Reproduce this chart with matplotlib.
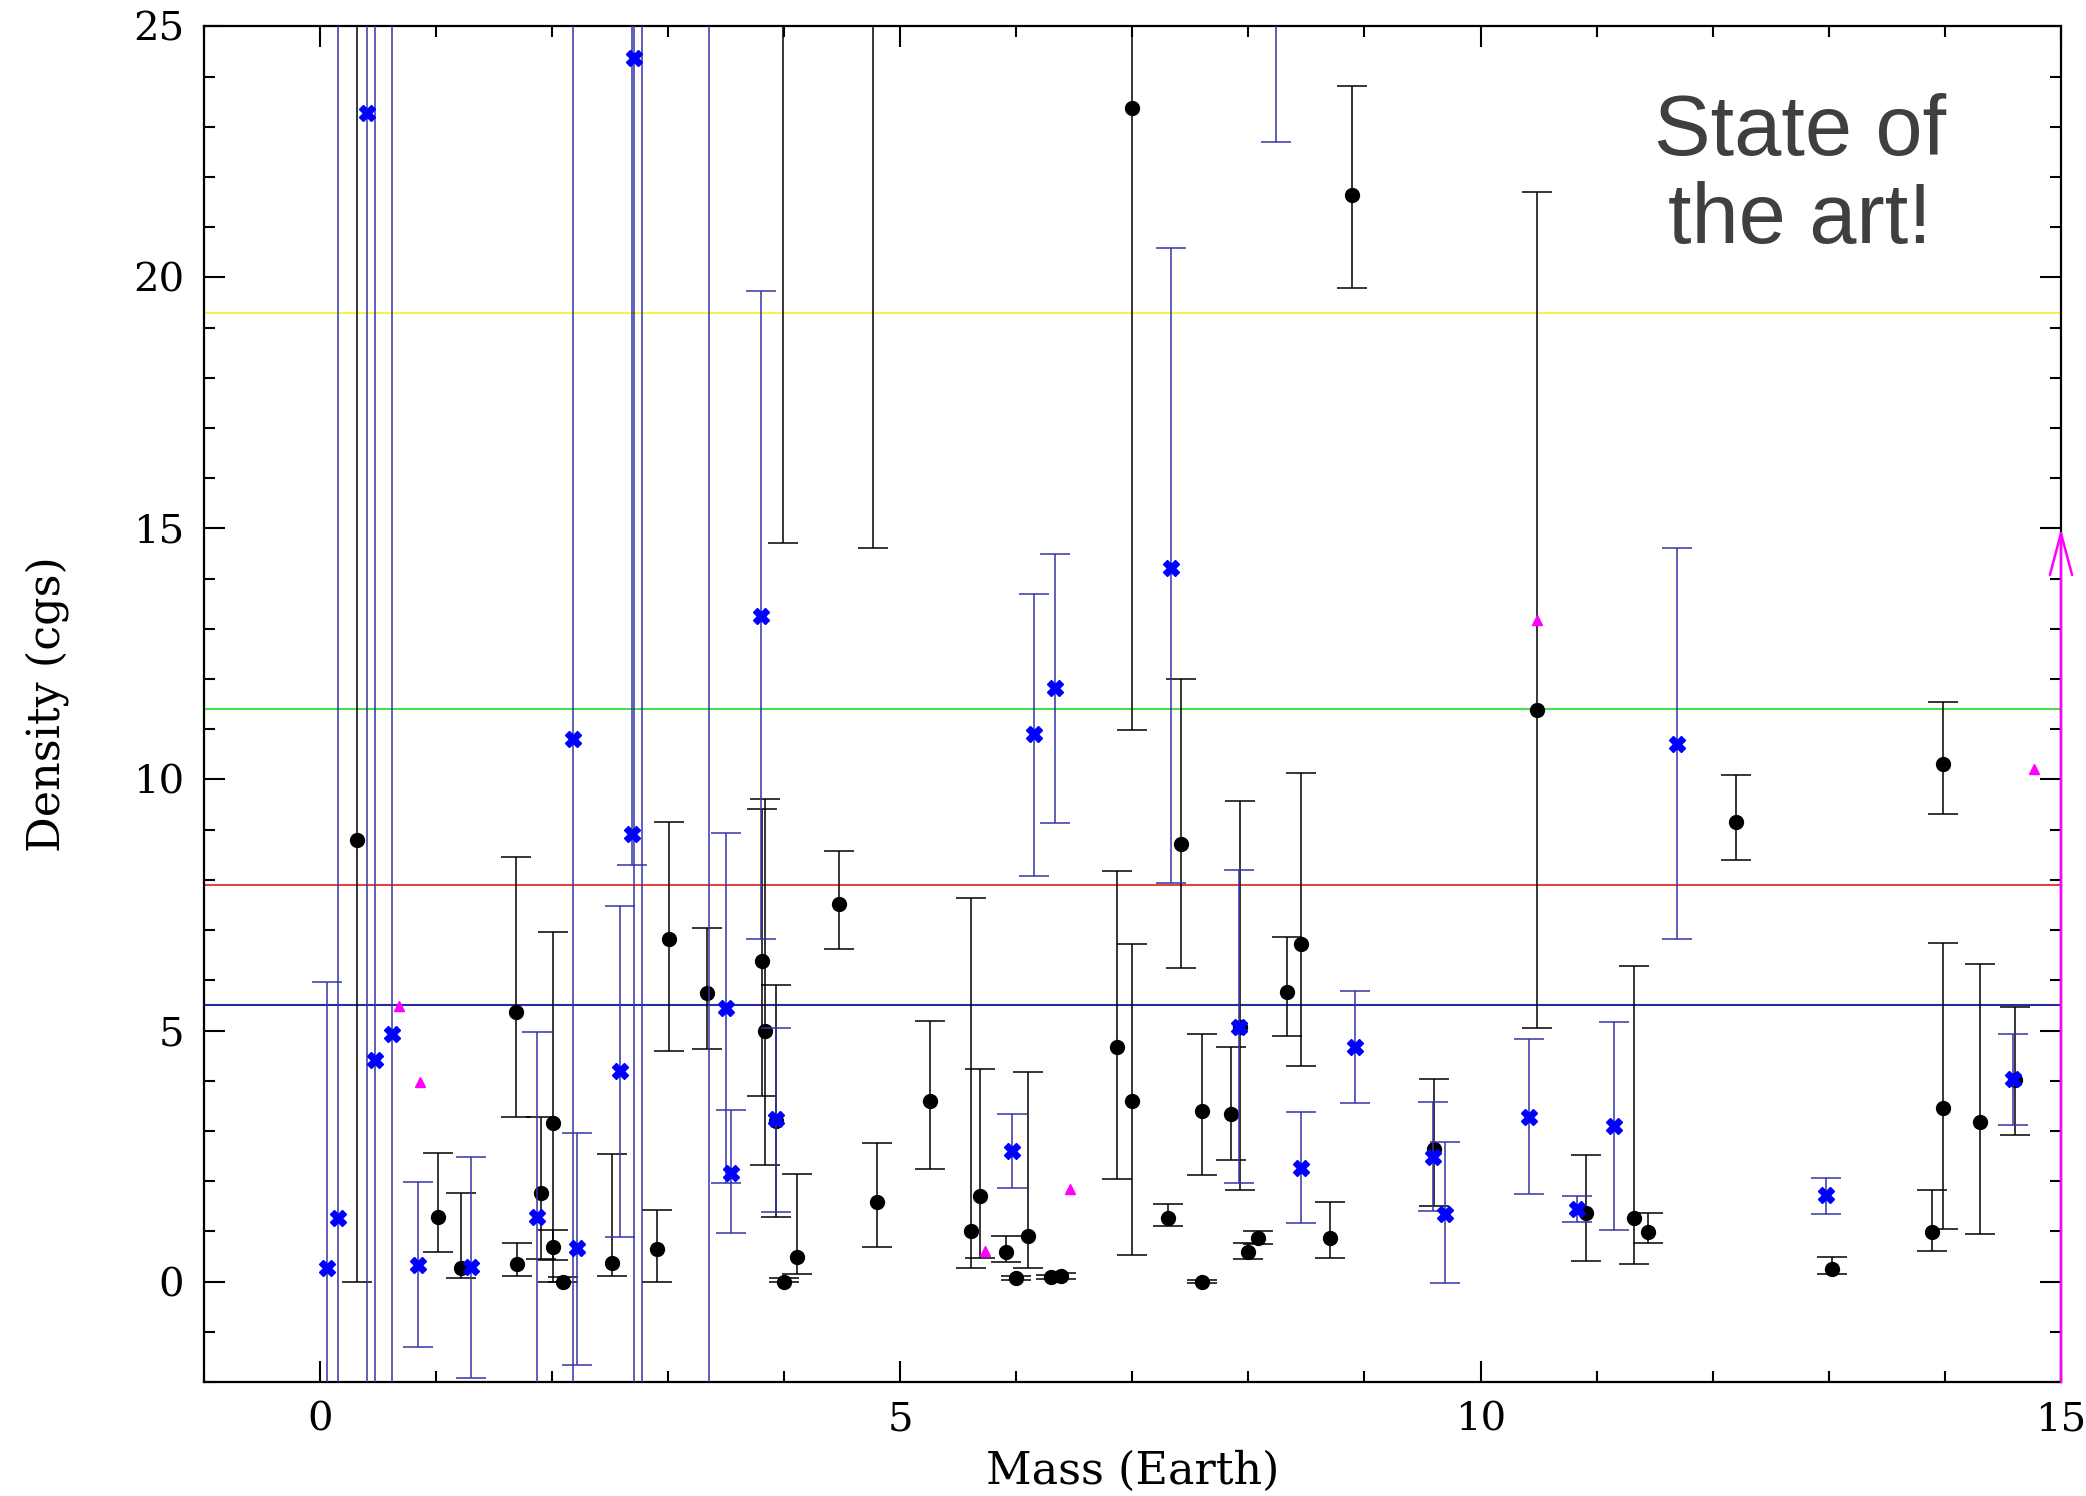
import numpy as np
from matplotlib import pyplot as plt
from matplotlib.ticker import MultipleLocator

# black points: mass, density, lower bound, upper bound of error bar
black_mass = [0.32, 1.02, 1.22, 1.69, 1.70, 1.91, 2.01, 2.01, 2.10, 2.52,
              2.91, 3.01, 3.34, 3.81, 3.84, 3.93, 3.99, 4.00, 4.11, 4.47,
              4.77, 4.80, 5.26, 5.61, 5.69, 5.91, 6.00, 6.10, 6.30, 6.39,
              6.87, 7.00, 7.00, 7.31, 7.42, 7.60, 7.60, 7.85, 7.93, 8.00,
              8.08, 8.33, 8.45, 8.70, 8.89, 9.60, 10.49, 10.91, 11.32, 11.44,
              12.20, 13.03, 13.89, 13.98, 13.98, 14.30, 14.60]
black_dens = [8.80, 1.28, 0.27, 5.37, 0.36, 1.77, 3.15, 0.68, 0.00, 0.38,
              0.64, 6.83, 5.75, 6.39, 5.00, 3.20, 27.0, 0.00, 0.49, 7.52,
              27.0, 1.58, 3.59, 1.00, 1.71, 0.58, 0.07, 0.91, 0.09, 0.11,
              4.67, 3.59, 23.37, 1.27, 8.71, 0.00, 3.40, 3.34, 5.08, 0.58,
              0.86, 5.77, 6.72, 0.86, 21.64, 2.64, 11.39, 1.37, 1.27, 0.99,
              9.16, 0.25, 0.99, 10.30, 3.45, 3.17, 4.02]
black_lo = [0.00, 0.58, 0.07, 3.28, 0.11, 0.45, 0.00, 0.43, 0.00, 0.11,
            0.00, 4.60, 4.63, 3.70, 2.32, 1.29, 14.71, 0.00, 0.16, 6.63,
            14.62, 0.69, 2.24, 0.27, 0.46, 0.40, 0.03, 0.27, 0.05, 0.06,
            2.05, 0.52, 10.98, 1.10, 6.24, -0.02, 2.12, 2.43, 1.83, 0.45,
            0.75, 4.90, 4.29, 0.46, 19.78, 1.50, 5.06, 0.41, 0.35, 0.77,
            8.39, 0.15, 0.61, 9.31, 1.04, 0.94, 2.91]
black_hi = [40.0, 2.56, 1.76, 8.45, 0.77, 3.28, 6.96, 1.03, 0.10, 2.54,
            1.43, 9.15, 7.04, 9.42, 9.62, 5.90, 40.0, 0.08, 2.15, 8.58,
            40.0, 2.76, 5.18, 7.63, 4.23, 0.91, 0.12, 4.17, 0.14, 0.18,
            8.17, 6.72, 40.0, 1.54, 12.00, 0.03, 4.93, 4.67, 9.57, 0.76,
            1.00, 6.86, 10.12, 1.58, 23.82, 4.03, 21.70, 2.53, 6.28, 1.37,
            10.08, 0.48, 1.82, 11.55, 6.74, 6.33, 5.47]

# blue crosses
blue_mass = [0.06, 0.155, 0.41, 0.475, 0.62, 0.85, 1.30, 1.87, 2.18, 2.22,
             2.59, 2.69, 2.71, 2.78, 3.35, 3.50, 3.54, 3.80, 3.93, 5.96,
             6.15, 6.33, 7.33, 7.92, 8.24, 8.45, 8.92, 9.59, 9.69, 10.42,
             10.83, 11.15, 11.69, 12.98, 14.59]
blue_dens = [0.27, 1.26, 23.28, 4.41, 4.93, 0.33, 0.30, 1.29, 10.80, 0.67,
             4.20, 8.91, 24.37, 27.0, 27.0, 5.45, 2.17, 13.26, 3.23, 2.61,
             10.90, 11.82, 14.22, 5.08, 27.0, 2.27, 4.67, 2.49, 1.34, 3.27,
             1.44, 3.09, 10.71, 1.72, 4.03]
blue_lo = [-5.0, -5.0, -5.0, -5.0, -5.0, -1.31, -1.93, -5.0, -5.0, -1.67,
           0.88, 8.29, -5.0, -5.0, -5.0, 1.96, 0.96, 6.83, 1.38, 1.87,
           8.08, 9.13, 7.93, 1.96, 22.70, 1.16, 3.56, 1.41, -0.02, 1.75,
           1.19, 1.02, 6.82, 1.34, 3.12]
blue_hi = [5.97, 40.0, 40.0, 40.0, 40.0, 1.98, 2.49, 4.98, 40.0, 2.96,
           7.48, 40.0, 40.0, 40.0, 40.0, 8.93, 3.41, 19.72, 5.06, 3.33,
           13.69, 14.49, 20.58, 8.19, 40.0, 3.37, 5.79, 3.58, 2.78, 4.84,
           1.70, 5.16, 14.62, 2.07, 4.94]

# magenta triangles
tri_mass = [0.68, 0.86, 5.73, 6.46, 10.49, 14.77]
tri_dens = [5.48, 3.97, 0.60, 1.85, 13.18, 10.20]

# reference densities (gold, lead, iron, Earth)
ref_dens = [19.3, 11.4, 7.9, 5.5]
ref_colors = ['#f4f450', '#4cdc4c', '#dc4646', '#2a2aa0']

arrow_mass = 15
arrow_from = -2
arrow_to = 15

plt.rcParams['font.family'] = ['DejaVu Serif']

fig = plt.figure(figsize=(20.86, 14.96), dpi=100)
ax = fig.add_axes([0.0976, 0.0762, 0.8904, 0.9062])

for d, c in zip(ref_dens, ref_colors):
    ax.axhline(d, color=c, lw=1.5, zorder=1)

bd = np.array(black_dens)
ax.errorbar(black_mass, bd, yerr=[bd - np.array(black_lo), np.array(black_hi) - bd],
            fmt='o', color='black', ms=10, ecolor='black', elinewidth=1.1,
            capsize=11, capthick=1.1, zorder=2)

bl = np.array(blue_dens)
ax.errorbar(blue_mass, bl, yerr=[bl - np.array(blue_lo), np.array(blue_hi) - bl],
            fmt='X', color='#0000ff', ms=12, ecolor='#3434a8', elinewidth=1.1,
            capsize=11, capthick=1.1, zorder=3)

ax.plot(tri_mass, tri_dens, '^', color='#ff00ff', ms=7, zorder=4)

ax.annotate('', xy=(arrow_mass, arrow_to), xytext=(arrow_mass, arrow_from),
            arrowprops=dict(arrowstyle='->, head_length=30, head_width=8',
                            mutation_scale=1, color='#ff00ff', lw=1.8,
                            shrinkA=0, shrinkB=0),
            annotation_clip=False, zorder=5)

ax.text(12.75, 22.0, 'State of\nthe art!', ha='center', va='center',
        fontsize=61, color='#3f3f3f', family=['Liberation Sans'],
        linespacing=1.12)

ax.set_xlim(-1, 15)
ax.set_ylim(-2, 25)
ax.xaxis.set_major_locator(MultipleLocator(5))
ax.xaxis.set_minor_locator(MultipleLocator(1))
ax.yaxis.set_major_locator(MultipleLocator(5))
ax.yaxis.set_minor_locator(MultipleLocator(1))
ax.tick_params(which='both', direction='in', top=True, right=True, width=1.5)
ax.tick_params(which='major', length=15, labelsize=29, pad=14)
ax.tick_params(which='minor', length=8)
for s in ax.spines.values():
    s.set_linewidth(1.6)

ax.set_xlabel('Mass (Earth)', fontsize=32, labelpad=8)
ax.set_ylabel('Density (cgs)', fontsize=32, labelpad=46)

plt.savefig('out.png')
